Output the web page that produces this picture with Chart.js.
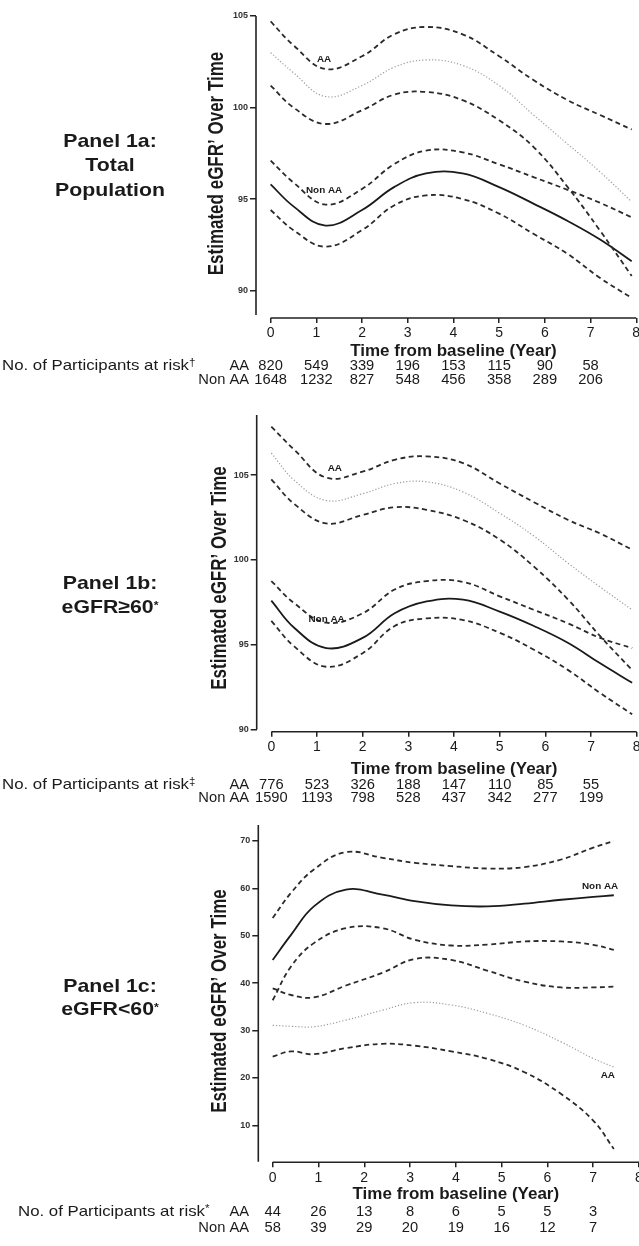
<!DOCTYPE html>
<html>
<head>
<meta charset="utf-8">
<script src="https://cdn.jsdelivr.net/npm/chart.js@4.4.0/dist/chart.umd.min.js"></script>
<style>
    html, body { margin: 0; padding: 0; background: #fff; }
    body { width: 639px; height: 1246px; position: relative; overflow: hidden; }
    canvas { position: absolute; left: 0; }
</style>
</head>
<body>
<canvas id="grafA" width="639" height="400" style="top:0px"></canvas>
<canvas id="grafB" width="639" height="410" style="top:400px"></canvas>
<canvas id="grafC" width="639" height="436" style="top:810px"></canvas>

<script>
// ============================================================
//  DADOS
// ============================================================

const FONTE = "'Liberation Sans', Arial, Helvetica, sans-serif";

const anosEixo = [0, 1, 2, 3, 4, 5, 6, 7, 8];
const anosRisco = [0, 1, 2, 3, 4, 5, 6, 7];

// Painel 1a - Total Population
const anosA = [0, 0.5, 1.2, 2, 2.7, 3.4, 4.2, 5, 5.75, 6.5, 7.2, 7.9];
const aaSupA = [104.7, 103.4, 102.1, 102.8, 104.0, 104.4, 104.0, 102.8, 101.5, 100.4, 99.6, 98.8];
const aaMedA = [103.0, 101.9, 100.6, 101.2, 102.2, 102.6, 102.3, 101.2, 99.6, 98.0, 96.5, 94.85];
const aaInfA = [101.2, 100.0, 99.1, 99.85, 100.7, 100.85, 100.4, 99.3, 97.85, 95.65, 93.3, 90.8];
const naSupA = [97.1, 95.9, 94.7, 95.55, 96.9, 97.65, 97.55, 96.9, 96.2, 95.5, 94.8, 94.0];
const naMedA = [95.8, 94.6, 93.55, 94.4, 95.65, 96.4, 96.4, 95.65, 94.75, 93.8, 92.8, 91.6];
const naInfA = [94.4, 93.3, 92.4, 93.3, 94.65, 95.2, 95.0, 94.2, 93.1, 92.0, 90.7, 89.6];
const ticksYA = [90, 95, 100, 105];
const riscoAA_A = [820, 549, 339, 196, 153, 115, 90, 58];
const riscoNA_A = [1648, 1232, 827, 548, 456, 358, 289, 206];

// Painel 1b - eGFR>=60
const anosB = [0, 0.5, 1.2, 2, 2.7, 3.4, 4.2, 5, 5.75, 6.5, 7.2, 7.9];
const aaSupB = [107.85, 106.5, 104.85, 105.2, 105.9, 106.1, 105.7, 104.5, 103.4, 102.35, 101.55, 100.6];
const aaMedB = [106.3, 104.7, 103.5, 103.9, 104.5, 104.6, 104.0, 102.75, 101.4, 99.8, 98.4, 97.05];
const aaInfB = [104.75, 103.3, 102.15, 102.65, 103.1, 102.95, 102.35, 101.2, 99.6, 97.65, 95.5, 93.5];
const naSupB = [98.75, 97.45, 96.3, 96.85, 98.25, 98.75, 98.7, 97.85, 97.05, 96.25, 95.4, 94.8];
const naMedB = [97.6, 96.0, 94.8, 95.4, 96.85, 97.55, 97.65, 96.95, 96.1, 95.1, 93.9, 92.75];
const naInfB = [96.4, 94.9, 93.7, 94.5, 96.1, 96.55, 96.45, 95.7, 94.7, 93.5, 92.15, 90.9];
const ticksYB = [90, 95, 100, 105];
const riscoAA_B = [776, 523, 326, 188, 147, 110, 85, 55];
const riscoNA_B = [1590, 1193, 798, 528, 437, 342, 277, 199];

// Painel 1c - eGFR<60
const anosC = [0, 0.4, 0.9, 1.6, 2.4, 3.1, 3.9, 4.7, 5.5, 6.3, 7.0, 7.45];
const naSupC = [53.75, 59.05, 64.0, 67.65, 66.45, 65.4, 64.7, 64.2, 64.5, 66.1, 68.6, 70.0];
const naMedC = [44.9, 50.2, 56.2, 59.75, 58.7, 57.3, 56.4, 56.2, 56.8, 57.6, 58.2, 58.55];
const naInfC = [36.4, 43.5, 48.45, 51.6, 51.6, 49.15, 47.95, 48.15, 48.8, 48.8, 48.1, 47.0];
const aaSupC = [38.9, 37.5, 37.0, 39.5, 42.2, 45.1, 44.9, 42.6, 40.3, 39.1, 39.1, 39.25];
const aaMedC = [31.1, 30.9, 30.8, 32.2, 34.3, 35.9, 35.4, 33.6, 31.1, 27.6, 24.1, 22.3];
const aaInfC = [24.5, 25.6, 25.0, 26.3, 27.2, 26.8, 25.6, 24.0, 21.2, 16.6, 11.0, 5.0];
const ticksYC = [10, 20, 30, 40, 50, 60, 70];
const riscoAA_C = [44, 26, 13, 8, 6, 5, 5, 3];
const riscoNA_C = [58, 39, 29, 20, 19, 16, 12, 7];

// ============================================================
//  ESTILOS DAS LINHAS
// ============================================================

const tracejada = { borderColor: '#2a2a2a', borderWidth: 1.8, borderDash: [5, 3.5] };
const pontilhada = { borderColor: '#9c9c9c', borderWidth: 1.2, borderDash: [1.2, 2] };
const solida = { borderColor: '#1a1a1a', borderWidth: 1.8 };

function serie(anos, valores, estilo) {
    return Object.assign({
        data: anos.map((a, i) => ({ x: a, y: valores[i] })),
        pointRadius: 0,
        fill: false,
        tension: 0.4
    }, estilo);
}

// ============================================================
//  TEXTO
// ============================================================

function escreverPartes(ctx, partes, x, y, alinhar, esticar) {
    ctx.save();
    let total = 0;
    partes.forEach(p => { ctx.font = p.f; p.w = ctx.measureText(p.t).width; total += p.w; });
    ctx.translate(x, y);
    ctx.scale(esticar || 1, 1);
    let cx = alinhar === 'center' ? -total / 2 : (alinhar === 'right' ? -total : 0);
    ctx.textAlign = 'left';
    ctx.textBaseline = 'alphabetic';
    partes.forEach(p => { ctx.font = p.f; ctx.fillText(p.t, cx, p.dy || 0); cx += p.w; });
    ctx.restore();
}

function escrever(ctx, txt, x, y, fonte, alinhar, esticar) {
    escreverPartes(ctx, [{ t: txt, f: fonte }], x, y, alinhar, esticar);
}

// ============================================================
//  PLUGIN: eixos destacados, rótulos, títulos e tabela de risco
// ============================================================

const pluginDesenho = {
    id: 'desenho',
    afterDraw(chart, args, o) {
        const ctx = chart.ctx;
        const sx = chart.scales.x;
        const sy = chart.scales.y;
        const area = chart.chartArea;

        ctx.save();
        ctx.strokeStyle = '#222';
        ctx.lineWidth = 1.6;
        ctx.beginPath();
        ctx.moveTo(area.left, sy.getPixelForValue(o.eixoY[0]));
        ctx.lineTo(area.left, sy.getPixelForValue(o.eixoY[1]));
        ctx.moveTo(sx.getPixelForValue(0), area.bottom);
        ctx.lineTo(sx.getPixelForValue(8), area.bottom);
        ctx.stroke();

        ctx.fillStyle = '#1a1a1a';

        // rótulos das curvas
        o.rotulos.forEach(r => {
            escrever(ctx, r.t, sx.getPixelForValue(r.x), sy.getPixelForValue(r.y) + 3,
                'bold 9px ' + FONTE, 'center', 1.1);
        });

        // título do eixo X
        escrever(ctx, 'Time from baseline (Year)', sx.getPixelForValue(4), o.baseX,
            'bold 17px ' + FONTE, 'center', 1.0);

        // título do eixo Y
        ctx.save();
        ctx.translate(o.tituloY[0], o.tituloY[1]);
        ctx.rotate(-Math.PI / 2);
        ctx.scale(1, 1.25);
        ctx.font = 'bold 17px ' + FONTE;
        ctx.textAlign = 'center';
        ctx.textBaseline = 'alphabetic';
        ctx.fillText('Estimated eGFR\u2019 Over Time', 0, 0);
        ctx.restore();

        // título do painel (à esquerda)
        o.titulo.forEach(l => {
            escreverPartes(ctx, l.partes, 110, l.y, 'center', 1.12);
        });

        // tabela de participantes em risco
        const r = o.risco;
        const f14 = '14px ' + FONTE;
        escreverPartes(ctx, [
            { t: 'No. of Participants at risk', f: '14.5px ' + FONTE },
            { t: r.marca, f: '10px ' + FONTE, dy: -4 }
        ], r.x0, r.yAA, 'left', 1.16);
        escrever(ctx, 'AA', 249, r.yAA, f14, 'right', 1.05);
        escrever(ctx, 'Non AA', 249, r.yNA, f14, 'right', 1.05);
        anosRisco.forEach((a, i) => {
            const px = sx.getPixelForValue(a);
            escrever(ctx, String(r.aa[i]), px, r.yAA, f14, 'center', 1.05);
            escrever(ctx, String(r.na[i]), px, r.yNA, f14, 'center', 1.05);
        });

        ctx.restore();
    }
};

// ============================================================
//  CRIAR PAINEL
// ============================================================

function criarPainel(id, cfg) {
    const fixarTicks = valores => scale => { scale.ticks = valores.map(v => ({ value: v })); };

    return new Chart(document.getElementById(id), {
        type: 'line',
        data: { datasets: cfg.series },
        options: {
            responsive: false,
            animation: false,
            events: [],
            layout: { padding: { left: 190, top: cfg.padTop, right: 0, bottom: cfg.padBottom } },
            plugins: {
                legend: { display: false },
                tooltip: { enabled: false },
                desenho: cfg.desenho
            },
            scales: {
                x: {
                    type: 'linear',
                    min: cfg.xMin,
                    max: cfg.xMax,
                    afterBuildTicks: fixarTicks(anosEixo),
                    afterFit: s => { s.height = 43; s.paddingLeft = 0; s.paddingRight = 0; },
                    border: { display: false },
                    grid: { drawOnChartArea: false, drawTicks: true, tickLength: 5, color: '#222', lineWidth: 1.5 },
                    ticks: { font: { family: FONTE, size: 14 }, color: '#1a1a1a', padding: 2, maxRotation: 0, autoSkip: false }
                },
                y: {
                    type: 'linear',
                    min: cfg.yMin,
                    max: cfg.yMax,
                    afterBuildTicks: fixarTicks(cfg.ticksY),
                    afterFit: s => { s.width = cfg.yLargura; s.paddingTop = 0; s.paddingBottom = 0; },
                    border: { display: false },
                    grid: { drawOnChartArea: false, drawTicks: true, tickLength: 6, color: '#222', lineWidth: 1.5 },
                    ticks: { font: { family: FONTE, size: 9, weight: 'bold' }, color: '#333', padding: 2 }
                }
            }
        },
        plugins: [pluginDesenho]
    });
}

const fTit = 'bold 19px ' + FONTE;
const fAst = 'bold 11px ' + FONTE;

// ============================================================
//  INICIALIZAÇÃO
// ============================================================

criarPainel('grafA', {
    padTop: 16, padBottom: 39, yLargura: 66,
    xMin: -0.32, xMax: 8.06, yMin: 88.5, yMax: 105, ticksY: ticksYA,
    series: [
        serie(anosA, aaSupA, tracejada), serie(anosA, aaMedA, pontilhada), serie(anosA, aaInfA, tracejada),
        serie(anosA, naSupA, tracejada), serie(anosA, naMedA, solida), serie(anosA, naInfA, tracejada)
    ],
    desenho: {
        eixoY: [105, 88.66],
        rotulos: [{ t: 'AA', x: 1.17, y: 102.65 }, { t: 'Non AA', x: 1.17, y: 95.47 }],
        baseX: 356,
        tituloY: [223, 163.5],
        titulo: [
            { y: 147, partes: [{ t: 'Panel 1a:', f: fTit }] },
            { y: 171, partes: [{ t: 'Total', f: fTit }] },
            { y: 196, partes: [{ t: 'Population', f: fTit }] }
        ],
        risco: { marca: '\u2020', x0: 2, yAA: 370, yNA: 384, aa: riscoAA_A, na: riscoNA_A }
    }
});

criarPainel('grafB', {
    padTop: 15, padBottom: 35.3, yLargura: 66.7,
    xMin: -0.32, xMax: 8.05, yMin: 89.87, yMax: 108.54, ticksY: ticksYB,
    series: [
        serie(anosB, aaSupB, tracejada), serie(anosB, aaMedB, pontilhada), serie(anosB, aaInfB, tracejada),
        serie(anosB, naSupB, tracejada), serie(anosB, naMedB, solida), serie(anosB, naInfB, tracejada)
    ],
    desenho: {
        eixoY: [108.54, 90],
        rotulos: [{ t: 'AA', x: 1.39, y: 105.41 }, { t: 'Non AA', x: 1.21, y: 96.54 }],
        baseX: 374,
        tituloY: [226, 178],
        titulo: [
            { y: 189, partes: [{ t: 'Panel 1b:', f: fTit }] },
            { y: 213, partes: [{ t: 'eGFR\u226560', f: fTit }, { t: '*', f: fAst, dy: -4 }] }
        ],
        risco: { marca: '\u2021', x0: 2, yAA: 389, yNA: 402, aa: riscoAA_B, na: riscoNA_B }
    }
});

criarPainel('grafC', {
    padTop: 15, padBottom: 40.7, yLargura: 68.3,
    xMin: -0.314, xMax: 8.0, yMin: 2.19, yMax: 73.38, ticksY: ticksYC,
    series: [
        serie(anosC, naSupC, tracejada), serie(anosC, naMedC, solida), serie(anosC, naInfC, tracejada),
        serie(anosC, aaSupC, tracejada), serie(anosC, aaMedC, pontilhada), serie(anosC, aaInfC, tracejada)
    ],
    desenho: {
        eixoY: [73.38, 2.3],
        rotulos: [{ t: 'Non AA', x: 7.15, y: 60.4 }, { t: 'AA', x: 7.32, y: 20.56 }],
        baseX: 389,
        tituloY: [226, 191],
        titulo: [
            { y: 182, partes: [{ t: 'Panel 1c:', f: fTit }] },
            { y: 205, partes: [{ t: 'eGFR<60', f: fTit }, { t: '*', f: fAst, dy: -4 }] }
        ],
        risco: { marca: '*', x0: 18, yAA: 406, yNA: 422, aa: riscoAA_C, na: riscoNA_C }
    }
});
</script>
</body>
</html>
